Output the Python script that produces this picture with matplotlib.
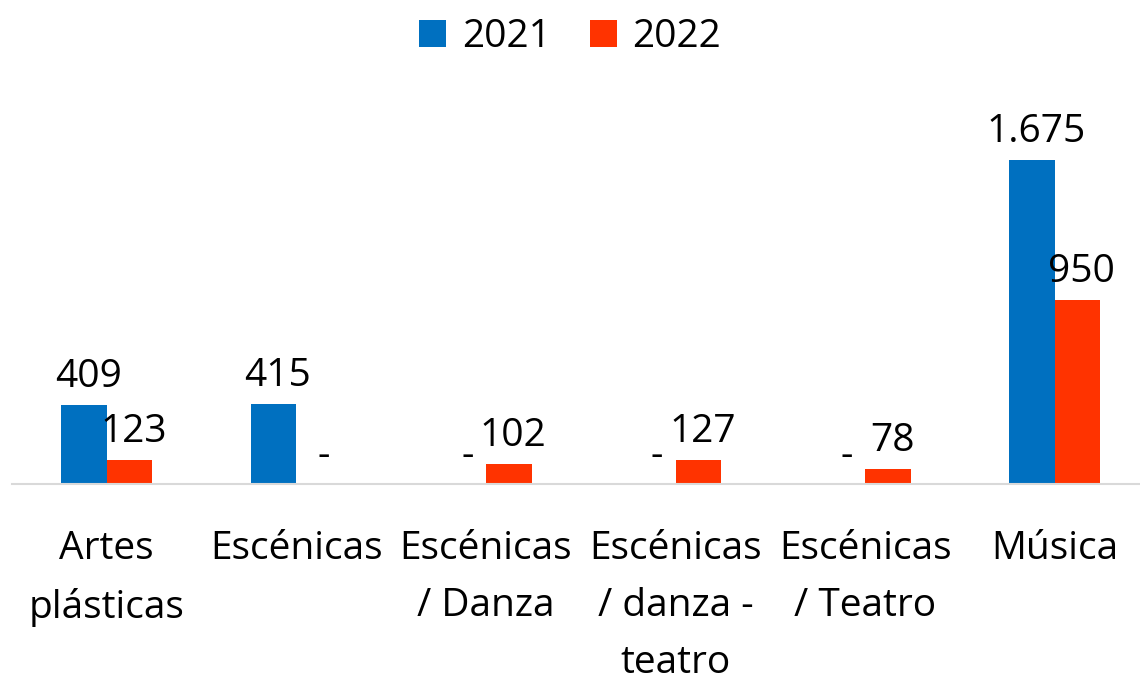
import matplotlib
matplotlib.use("Agg")
import matplotlib.pyplot as plt
import numpy as np

plt.rcParams['font.family'] = ['Open Sans', 'DejaVu Sans']

categories = ["Artes\nplásticas", "Escénicas", "Escénicas\n/ Danza",
              "Escénicas\n/ danza -\nteatro", "Escénicas\n/ Teatro", "Música"]
values_2021 = [409, 415, 0, 0, 0, 1675]
values_2022 = [123, 0, 102, 127, 78, 950]
years = ["2021", "2022"]

blue = "#0070C0"
red = "#FF3300"

fig = plt.figure(figsize=(11.4, 6.81), dpi=100)
ax = fig.add_axes([0.0105, 0.289, 0.998, 0.568])

x = np.arange(len(categories))
w = 0.24

bars1 = ax.bar(x - w / 2, values_2021, w, color=blue, label=years[0])
bars2 = ax.bar(x + w / 2, values_2022, w, color=red, label=years[1])


def fmt(v):
    if v == 0:
        return "-"
    return f"{v:,}".replace(",", ".")


for bars, vals in ((bars1, values_2021), (bars2, values_2022)):
    for b, v in zip(bars, vals):
        ax.annotate(fmt(v), (b.get_x() + b.get_width() / 2, v),
                    xytext=(3, 13), textcoords="offset points",
                    ha="center", va="baseline", fontsize=28, color="black")

ax.set_xlim(-0.5, len(categories) - 0.5)
ax.set_ylim(0, 2000)
ax.set_xticks(x)
ax.set_xticklabels(categories, fontsize=28, linespacing=1.65, va="top")
ax.tick_params(axis="x", length=0, pad=33)
ax.set_yticks([])
for s in ["top", "right", "left"]:
    ax.spines[s].set_visible(False)
ax.spines["bottom"].set_color("#d9d9d9")
ax.spines["bottom"].set_linewidth(1.5)

fig.legend(loc="upper center", bbox_to_anchor=(0.5, 1.025), ncol=2, frameon=False,
           fontsize=28, handlelength=0.7, handleheight=0.7, handletextpad=0.4,
           columnspacing=1.0)

fig.savefig("out.png", dpi=100)
